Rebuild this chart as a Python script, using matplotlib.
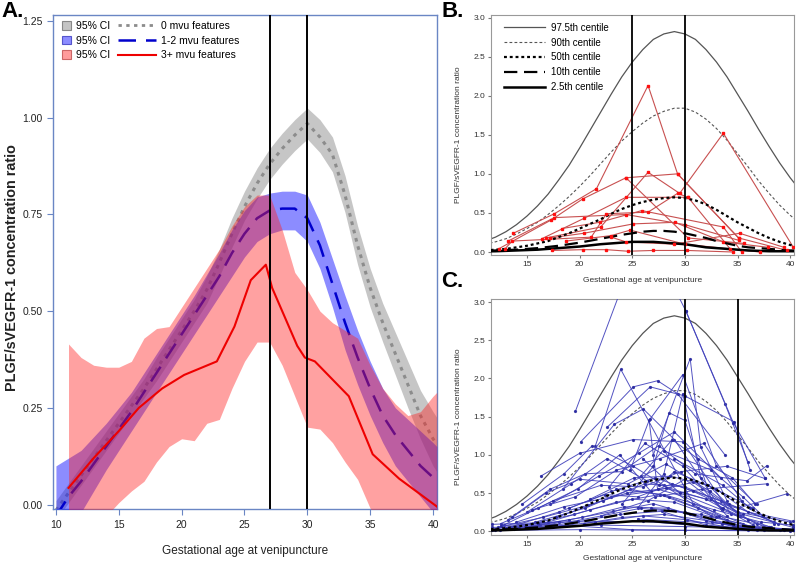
import matplotlib
matplotlib.use("Agg")
import matplotlib.pyplot as plt
from matplotlib.patches import Patch
from matplotlib.lines import Line2D

plt.rcParams['font.family'] = ['Liberation Sans', 'DejaVu Sans']

# ---- panel A: fitted ratio by number of mvu features ----
ages_a = [10, 11, 12, 13, 14, 15, 16, 17, 18, 19, 20, 21, 22, 23, 24, 25,
          26, 27, 28, 29, 30, 31, 32, 33, 34, 35, 36, 37, 38, 39, 40, 40.3]

grey_mid = [-0.015, 0.03, 0.075, 0.12, 0.165, 0.21, 0.255, 0.30, 0.35, 0.40, 0.45,
            0.50, 0.555, 0.625, 0.70, 0.77, 0.83, 0.88, 0.92, 0.955, 0.985, 0.95,
            0.905, 0.80, 0.67, 0.56, 0.47, 0.39, 0.31, 0.23, 0.17, 0.155]
grey_lo = [-0.04, 0.005, 0.05, 0.095, 0.14, 0.185, 0.23, 0.275, 0.32, 0.37, 0.42,
           0.47, 0.52, 0.59, 0.665, 0.735, 0.79, 0.84, 0.88, 0.915, 0.945, 0.91,
           0.86, 0.755, 0.62, 0.51, 0.42, 0.335, 0.25, 0.17, 0.10, 0.085]
grey_hi = [0.01, 0.055, 0.10, 0.145, 0.19, 0.235, 0.28, 0.325, 0.38, 0.43, 0.48,
           0.53, 0.59, 0.66, 0.74, 0.81, 0.87, 0.92, 0.96, 0.995, 1.025, 0.995,
           0.95, 0.85, 0.72, 0.61, 0.52, 0.445, 0.37, 0.295, 0.24, 0.225]

blue_mid = [-0.03, 0.02, 0.06, 0.105, 0.15, 0.195, 0.24, 0.29, 0.34, 0.39, 0.44,
            0.49, 0.54, 0.59, 0.65, 0.70, 0.74, 0.76, 0.765, 0.765, 0.74, 0.67,
            0.57, 0.47, 0.38, 0.30, 0.23, 0.18, 0.14, 0.10, 0.07, 0.06]
blue_lo = [-0.16, -0.09, -0.02, 0.035, 0.09, 0.14, 0.19, 0.24, 0.29, 0.34, 0.39,
           0.44, 0.49, 0.54, 0.59, 0.64, 0.68, 0.70, 0.71, 0.71, 0.68, 0.61,
           0.51, 0.40, 0.31, 0.23, 0.16, 0.10, 0.06, 0.02, -0.02, -0.03]
blue_hi = [0.10, 0.12, 0.14, 0.175, 0.21, 0.25, 0.29, 0.34, 0.39, 0.44, 0.49,
           0.54, 0.595, 0.65, 0.71, 0.76, 0.795, 0.805, 0.81, 0.81, 0.80, 0.73,
           0.635, 0.54, 0.45, 0.37, 0.30, 0.25, 0.22, 0.19, 0.16, 0.15]

ages_red_band = [11, 12, 13, 14, 15, 16, 17, 18, 19, 20, 21, 22, 23, 24, 25, 26,
                 27, 28, 29, 30, 31, 32, 33, 34, 35, 36, 37, 38, 39, 40, 40.3]
red_lo = [-0.10, -0.06, -0.05, -0.03, 0.005, 0.035, 0.06, 0.11, 0.15, 0.17, 0.165,
          0.21, 0.22, 0.30, 0.37, 0.42, 0.42, 0.36, 0.28, 0.20, 0.195, 0.16, 0.11,
          0.065, -0.01, -0.05, -0.08, -0.10, -0.10, -0.10, -0.10]
red_hi = [0.415, 0.38, 0.36, 0.355, 0.355, 0.37, 0.43, 0.455, 0.46, 0.51, 0.56,
          0.61, 0.66, 0.72, 0.77, 0.80, 0.80, 0.71, 0.60, 0.555, 0.50, 0.47, 0.45,
          0.43, 0.36, 0.30, 0.26, 0.23, 0.24, 0.28, 0.29]

ages_red = [11, 13, 15, 16.6, 18.45, 20.2, 22.8, 24.2, 25.5, 26.7, 27.2, 28, 29.2,
            29.8, 30.6, 33.3, 35.2, 37.3, 40.3]
red_mid = [0.043, 0.12, 0.19, 0.25, 0.30, 0.335, 0.37, 0.46, 0.58, 0.62, 0.56, 0.50,
           0.41, 0.38, 0.37, 0.28, 0.13, 0.067, -0.005]

# ---- panels B and C: reference centiles ----
ages_cent = [11, 12, 13, 14, 15, 16, 17, 18, 19, 20, 21, 22, 23, 24, 25, 26, 27,
             28, 29, 30, 31, 32, 33, 34, 35, 36, 37, 38, 39, 40, 41]
c975 = [0.14, 0.19, 0.26, 0.35, 0.46, 0.59, 0.74, 0.92, 1.11, 1.33, 1.56, 1.79,
        2.02, 2.24, 2.43, 2.59, 2.72, 2.79, 2.82, 2.79, 2.72, 2.59, 2.43, 2.24,
        2.02, 1.80, 1.57, 1.35, 1.14, 0.95, 0.78]
c90 = [0.10, 0.13, 0.17, 0.23, 0.30, 0.38, 0.48, 0.59, 0.71, 0.84, 0.98, 1.13,
       1.28, 1.42, 1.54, 1.65, 1.74, 1.80, 1.84, 1.84, 1.79, 1.70, 1.58, 1.43,
       1.26, 1.09, 0.91, 0.75, 0.60, 0.47, 0.36]
c50 = [0.02, 0.03, 0.04, 0.06, 0.08, 0.11, 0.14, 0.19, 0.24, 0.30, 0.36, 0.42,
       0.49, 0.55, 0.60, 0.64, 0.67, 0.69, 0.70, 0.69, 0.66, 0.61, 0.54, 0.46,
       0.38, 0.31, 0.24, 0.18, 0.13, 0.09, 0.07]
c10 = [0.015, 0.02, 0.025, 0.03, 0.04, 0.05, 0.065, 0.08, 0.10, 0.12, 0.145, 0.17,
       0.195, 0.22, 0.24, 0.26, 0.27, 0.27, 0.26, 0.24, 0.21, 0.18, 0.14, 0.11,
       0.08, 0.06, 0.05, 0.04, 0.03, 0.02, 0.02]
c25 = [0.008, 0.01, 0.015, 0.02, 0.025, 0.03, 0.04, 0.05, 0.06, 0.07, 0.085, 0.10,
       0.11, 0.12, 0.13, 0.13, 0.13, 0.12, 0.11, 0.10, 0.08, 0.06, 0.05, 0.04,
       0.03, 0.02, 0.015, 0.01, 0.01, 0.01, 0.01]

# ---- panel B: individual trajectories (3+ mvu features) ----
b_traj = [
    [(13.7, 0.24), (17.6, 0.49), (21.6, 0.81), (26.5, 2.13), (29.3, 1.00), (35.1, 0.18)],
    [(12.3, 0.04), (17.3, 0.41), (20.3, 0.68), (24.4, 0.95), (30.3, 0.18), (35.6, 0.11)],
    [(13.2, 0.14), (17.6, 0.44), (24.4, 0.48), (30.0, 0.35), (35.1, 0.15)],
    [(16.4, 0.17), (20.4, 0.43), (24.4, 0.70), (30.3, 0.70), (34.3, 0.04)],
    [(16.8, 0.18), (22.0, 0.32), (26.5, 1.02), (29.5, 0.75), (33.65, 1.52), (40.3, 0.06)],
    [(17.2, 0.18), (20.4, 0.24), (25.1, 0.36), (29.05, 0.38), (33.65, 0.13), (37.9, 0.06)],
    [(17.4, 0.02), (20.3, 0.03), (22.55, 0.03), (24.6, 0.01), (27.0, 0.02), (30.2, 0.02), (34.6, 0.00)],
    [(18.3, 0.30), (21.9, 0.38), (25.9, 0.53), (33.65, 0.32), (35.4, 0.00)],
    [(18.7, 0.14), (23.0, 0.21), (24.8, 0.28), (30.0, 0.10), (37.1, 0.00)],
    [(12.9, 0.04), (13.6, 0.14), (21.1, 0.19), (22.55, 0.49), (26.5, 0.51), (29.3, 0.75), (30.3, 0.70)],
    [(23.0, 0.19), (24.4, 0.13), (29.0, 0.10), (35.2, 0.24), (39.4, 0.06)],
    [(24.4, 0.95), (29.3, 1.00), (35.1, 0.18), (39.7, 0.02)],
]

# ---- panel C: individual trajectories (1-2 mvu features) ----
c_traj = [
    [(19.6, 1.57), (24.3, 3.3)],
    [(29.3, 3.1), (30.1, 2.88), (33.8, 1.67), (36.0, 0.90)],
    [(30.1, 2.88), (34.6, 1.42), (37.6, 0.70)],
    [(27.0, 1.00), (30.5, 2.26), (31.5, 1.10), (34.0, 0.40)],
    [(26.7, 1.47), (29.8, 2.05), (33.0, 0.85), (36.8, 0.35)],
    [(21.5, 1.12), (23.9, 2.12), (30.8, 0.36), (35.5, 0.10)],
    [(20.1, 1.17), (25.1, 1.89), (27.4, 1.97), (29.3, 1.80), (33.8, 1.00)],
    [(22.6, 1.36), (26.7, 1.89), (30.0, 1.77), (34.7, 1.43), (36.2, 0.80)],
    [(18.4, 0.55), (23.3, 1.40), (26.05, 1.60), (29.0, 1.20), (33.4, 0.30)],
    [(16.3, 0.72), (20.0, 1.02), (25.1, 1.20), (29.8, 1.17), (34.4, 0.22)],
    [(14.5, 0.35), (18.5, 0.75), (21.2, 1.12), (25.1, 0.85), (28.0, 0.60), (32.5, 0.20)],
    [(13.2, 0.15), (17.2, 0.55), (20.5, 0.75), (24.0, 0.78), (27.5, 1.12), (31.0, 0.75), (35.9, 0.66), (37.8, 0.86)],
    [(15.0, 0.25), (19.2, 0.62), (22.6, 0.95), (26.4, 0.66), (30.0, 0.50), (35.0, 0.30), (39.7, 0.49)],
    [(12.5, 0.10), (16.0, 0.30), (19.8, 0.55), (23.8, 1.00), (27.2, 0.45), (31.6, 0.55), (37.8, 0.62)],
    [(12.8, 0.08), (17.5, 0.40), (22.0, 0.60), (26.0, 0.58), (29.6, 0.78), (34.0, 0.85), (37.6, 0.69)],
    [(13.5, 0.06), (18.0, 0.25), (22.4, 0.48), (25.5, 0.45), (28.8, 0.62), (33.4, 0.40), (38.5, 0.12)],
    [(14.0, 0.12), (18.5, 0.32), (23.0, 0.45), (26.8, 0.52), (30.8, 0.64), (35.0, 0.25), (40.0, 0.12)],
    [(12.2, 0.05), (16.5, 0.18), (20.8, 0.34), (24.5, 0.50), (28.2, 0.56), (32.0, 0.42), (36.5, 0.08)],
    [(12.0, 0.03), (15.5, 0.10), (19.5, 0.22), (23.5, 0.38), (27.6, 0.48), (31.2, 0.30), (35.5, 0.05)],
    [(13.0, 0.04), (17.0, 0.12), (21.0, 0.28), (25.0, 0.42), (29.0, 0.38), (33.0, 0.18), (37.0, 0.04)],
    [(12.4, 0.02), (16.2, 0.08), (20.2, 0.18), (24.2, 0.32), (28.4, 0.30), (32.6, 0.12), (36.8, 0.02)],
    [(14.8, 0.06), (19.0, 0.15), (23.2, 0.26), (27.0, 0.36), (30.5, 0.22), (34.8, 0.06), (39.0, 0.02)],
    [(12.0, 0.01), (16.8, 0.05), (21.5, 0.12), (26.0, 0.20), (30.2, 0.15), (35.0, 0.03), (40.3, 0.01)],
    [(13.8, 0.03), (18.8, 0.10), (23.8, 0.22), (27.8, 0.26), (32.0, 0.08), (37.5, 0.02)],
    [(15.8, 0.12), (20.5, 0.30), (24.8, 0.55), (28.5, 0.45), (33.2, 0.20), (38.0, 0.06)],
    [(17.8, 0.18), (22.2, 0.40), (26.2, 0.62), (30.0, 0.58), (34.2, 0.35), (38.8, 0.10)],
    [(19.0, 0.30), (23.0, 0.52), (27.2, 0.70), (30.8, 0.52), (35.5, 0.22), (40.3, 0.05)],
    [(21.0, 0.42), (25.2, 0.70), (28.6, 0.72), (32.2, 0.60), (36.5, 0.30)],
    [(24.8, 0.80), (26.6, 1.45), (27.4, 0.55), (30.0, 0.45), (34.0, 0.15)],
    [(26.0, 0.95), (29.5, 0.50), (33.5, 0.28), (38.2, 0.05)],
    [(24.0, 0.35), (27.0, 0.85), (28.5, 1.55), (30.0, 1.45), (32.5, 0.42), (36.8, 0.10)],
    [(25.5, 0.30), (28.0, 0.75), (29.8, 1.80), (31.5, 0.70), (35.2, 0.20)],
    [(27.5, 0.60), (29.0, 0.78), (33.0, 0.55), (36.0, 0.25), (40.3, 0.13)],
    [(22.0, 0.20), (26.5, 0.40), (30.0, 0.68), (33.6, 0.30), (37.5, 0.06)],
    [(20.4, 0.10), (24.0, 0.18), (28.0, 0.22), (32.0, 0.14), (36.0, 0.02)],
    [(11.7, 0.01), (20.0, 0.02), (30.0, 0.01), (40.3, 0.01)],
    [(11.7, 0.05), (22.0, 0.08), (30.0, 0.06), (40.3, 0.03)],
    [(11.7, 0.09), (18.0, 0.12), (26.0, 0.13), (35.0, 0.03), (40.3, 0.01)],
    [(12.5, 0.07), (16.0, 0.10), (25.0, 0.02), (40.0, 0.00)],
    [(25.5, 0.16), (33.5, 0.10), (38.0, 0.05), (40.3, 0.02)],
    [(29.0, 0.95), (33.6, 0.60), (36.2, 0.30), (38.5, 0.10)],
    [(28.0, 1.05), (32.5, 0.80), (35.5, 0.45), (37.4, 0.20)],
    [(25.8, 0.72), (28.8, 1.20), (31.2, 0.95), (34.5, 0.70), (36.7, 0.35)],
    [(17.2, 0.35), (21.8, 0.72), (25.6, 1.02), (29.0, 1.30), (33.4, 0.70)],
    [(15.5, 0.28), (19.6, 0.45), (23.5, 0.80), (27.6, 0.95), (31.8, 1.15), (35.4, 0.40)],
    [(13.6, 0.18), (16.8, 0.50), (20.0, 0.68), (24.6, 0.62), (28.2, 0.88), (32.4, 0.52), (36.0, 0.15)],
    [(22.8, 0.58), (26.2, 1.15), (29.8, 0.85), (34.0, 0.20)],
    [(26.8, 0.30), (30.0, 0.25), (34.6, 0.08), (39.4, 0.02)],
    [(23.5, 0.55), (28.0, 0.48), (32.8, 0.28), (37.2, 0.12), (40.3, 0.08)],
    [(14.2, 0.04), (19.8, 0.14), (25.8, 0.30), (31.5, 0.22), (36.4, 0.06)],
]

xlabel = "Gestational age at venipuncture"
ylabel = "PLGF/sVEGFR-1 concentration ratio"

fig = plt.figure(figsize=(8, 5.62), dpi=100)

# ---------------- panel A ----------------
axA = fig.add_axes([0.066, 0.094, 0.48, 0.879])
spine_col = '#6a86c4'

axA.fill_between(ages_a, grey_lo, grey_hi, color='#a8a8a8', alpha=0.65, lw=0, zorder=1)
axA.plot(ages_a, grey_mid, color='#8c8c8c', lw=2.2, ls=(0, (1.2, 1.6)), zorder=2)
axA.fill_between(ages_a, blue_lo, blue_hi, color='#1a1aff', alpha=0.5, lw=0, zorder=3)
axA.plot(ages_a, blue_mid, color='#0000cc', lw=1.8, ls=(0, (7, 4)), zorder=4)
axA.fill_between(ages_red_band, red_lo, red_hi, color='#ff2020', alpha=0.42, lw=0, zorder=5)
axA.plot(ages_red, red_mid, color='#ee0000', lw=1.5, zorder=6)

for v in [27, 30]:
    axA.axvline(v, color='black', lw=1.4, zorder=7)

axA.set_xlim(9.75, 40.3)
axA.set_ylim(-0.012, 1.265)
axA.set_xticks([10, 15, 20, 25, 30, 35, 40])
axA.set_yticks([0, 0.25, 0.5, 0.75, 1.0, 1.25])
axA.set_yticklabels(['0.00', '0.25', '0.50', '0.75', '1.00', '1.25'])
for s in axA.spines.values():
    s.set_color(spine_col)
    s.set_linewidth(1.0)
axA.tick_params(direction='out', length=4, color=spine_col, labelsize=7.5,
                labelcolor='#222222')
axA.set_xlabel(xlabel, fontsize=8.5, color='#222222')
axA.set_ylabel(ylabel, fontsize=10.4, fontweight='bold', color='#222222')
axA.yaxis.set_label_coords(-0.088, 0.49)
axA.xaxis.set_label_coords(0.5, -0.072)

patch_handles = [Patch(facecolor='#c4c4c4', edgecolor='#888888', lw=0.8),
                 Patch(facecolor='#8c8cff', edgecolor='#5555cc', lw=0.8),
                 Patch(facecolor='#ff9c9c', edgecolor='#cc6666', lw=0.8)]
leg1 = axA.legend(patch_handles, ['95% CI'] * 3, loc='upper left',
                  bbox_to_anchor=(0.012, 0.997), frameon=False, fontsize=7.5,
                  handlelength=0.9, handleheight=0.9, handletextpad=0.5,
                  labelspacing=0.45, borderaxespad=0)
axA.add_artist(leg1)
line_handles = [Line2D([], [], color='#8c8c8c', lw=2, ls=(0, (1.2, 1.6))),
                Line2D([], [], color='#0000cc', lw=1.8, ls=(0, (7, 4))),
                Line2D([], [], color='#ee0000', lw=1.5)]
axA.legend(line_handles, ['0 mvu features', '1-2 mvu features', '3+ mvu features'],
           loc='upper left', bbox_to_anchor=(0.16, 0.997), frameon=False,
           fontsize=7.5, handlelength=3.6, handletextpad=0.5, labelspacing=0.45,
           borderaxespad=0)

fig.text(0.002, 0.998, 'A.', fontsize=16, fontweight='bold', va='top', ha='left')


def centiles(ax):
    ax.plot(ages_cent, c975, color='#555555', lw=0.9, zorder=2, label='97.5th centile')
    ax.plot(ages_cent, c90, color='#555555', lw=0.8, ls=(0, (2.5, 2)), zorder=2,
            label='90th centile')
    ax.plot(ages_cent, c50, color='black', lw=1.6, ls=(0, (1.3, 1.3)), zorder=5,
            label='50th centile')
    ax.plot(ages_cent, c10, color='black', lw=1.6, ls=(0, (6, 3)), zorder=5,
            label='10th centile')
    ax.plot(ages_cent, c25, color='black', lw=1.8, zorder=5, label='2.5th centile')


def style_small(ax):
    ax.set_xlim(11.6, 40.4)
    ax.set_ylim(-0.04, 3.03)
    ax.set_xticks([15, 20, 25, 30, 35, 40])
    ax.set_yticks([0, 0.5, 1.0, 1.5, 2.0, 2.5, 3.0])
    ax.set_yticklabels(['0.0', '0.5', '1.0', '1.5', '2.0', '2.5', '3.0'])
    for s in ax.spines.values():
        s.set_color('#999999')
        s.set_linewidth(0.8)
    ax.tick_params(direction='out', length=2.5, color='#777777', labelsize=6,
                   labelcolor='#333333', pad=1.5)
    ax.set_xlabel(xlabel, fontsize=6, color='#333333')
    ax.set_ylabel(ylabel, fontsize=6, color='#333333')
    ax.yaxis.set_label_coords(-0.096, 0.5)


# ---------------- panel B ----------------
axB = fig.add_axes([0.614, 0.546, 0.379, 0.427])
centiles(axB)
for tr in b_traj:
    xs = [p[0] for p in tr]
    ys = [p[1] for p in tr]
    axB.plot(xs, ys, color='#c85050', lw=0.8, zorder=3)
    axB.plot(xs, ys, ls='none', marker='s', ms=2.1, color='#ff1010', zorder=6)
for v in [25, 30]:
    axB.axvline(v, color='black', lw=1.3, zorder=7)
style_small(axB)
axB.xaxis.set_label_coords(0.5, -0.09)
axB.legend(loc='upper left', bbox_to_anchor=(0.03, 0.985), frameon=False,
           fontsize=7, handlelength=4.2, handletextpad=0.6, labelspacing=0.5,
           borderaxespad=0)
fig.text(0.552, 0.998, 'B.', fontsize=16, fontweight='bold', va='top', ha='left')

# ---------------- panel C ----------------
axC = fig.add_axes([0.614, 0.048, 0.379, 0.42])
centiles(axC)
for tr in c_traj:
    xs = [p[0] for p in tr]
    ys = [p[1] for p in tr]
    axC.plot(xs, ys, color='#4040bb', lw=0.7, alpha=0.9, zorder=3,
             marker='o', ms=1.3, mfc='#2a2aa0', mec='#2a2aa0')
for v in [30, 35]:
    axC.axvline(v, color='black', lw=1.3, zorder=7)
style_small(axC)
axC.set_ylim(-0.05, 3.04)
axC.xaxis.set_label_coords(0.5, -0.085)
fig.text(0.552, 0.518, 'C.', fontsize=16, fontweight='bold', va='top', ha='left')

fig.savefig('out.png', dpi=100)
